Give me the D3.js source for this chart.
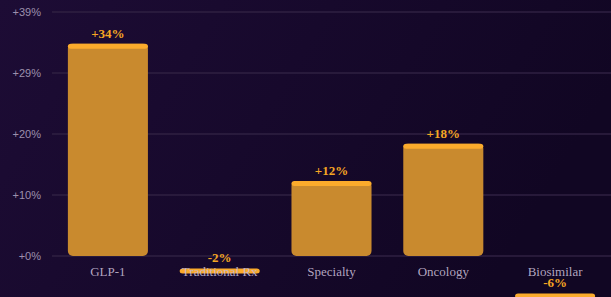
<!DOCTYPE html>
<html>
<head>
<meta charset="utf-8">
<script src="https://cdn.jsdelivr.net/npm/d3@7"></script>
<style>
  html, body { margin: 0; padding: 0; }
  body { width: 611px; height: 297px; overflow: hidden; }
</style>
</head>
<body>
<svg width="611" height="297"></svg>
<script>
// growth by segment, year over year
var categories = ["GLP-1", "Traditional Rx", "Specialty", "Oncology", "Biosimilar"];
var growth = [34, -2, 12, 18, -6];

var svg = d3.select("svg"),
    width = +svg.attr("width"),
    height = +svg.attr("height");

var margin = {top: 12, right: 0, bottom: 41, left: 52};

// background
var defs = svg.append("defs");
var bg = defs.append("linearGradient")
    .attr("id", "bg")
    .attr("x1", "0").attr("y1", "0")
    .attr("x2", "1").attr("y2", "0.3");
bg.append("stop").attr("offset", "0%").attr("stop-color", "#1d0c35");
bg.append("stop").attr("offset", "100%").attr("stop-color", "#110623");

svg.append("rect")
    .attr("width", width)
    .attr("height", height)
    .attr("fill", "url(#bg)");

var data = categories.map(function(c, i) { return {key: c, value: growth[i]}; });

var ymax = d3.max(growth) * 1.15;

var x = d3.scaleBand()
    .domain(categories)
    .range([margin.left, width - margin.right])
    .paddingInner(0.284)
    .paddingOuter(0.142);

var y = d3.scaleLinear()
    .domain([0, ymax])
    .range([height - margin.bottom, margin.top]);

var ticks = d3.range(5).map(function(i) { return ymax * i / 4; });
var fmt = function(v) { return "+" + Math.round(v) + "%"; };

// gridlines
svg.append("g")
  .selectAll("line")
  .data(ticks)
  .enter().append("line")
    .attr("x1", margin.left)
    .attr("x2", width)
    .attr("y1", function(d) { return y(d); })
    .attr("y2", function(d) { return y(d); })
    .attr("stroke", "#2f2042")
    .attr("stroke-width", 1.5);

// tick labels
svg.append("g")
  .selectAll("text")
  .data(ticks)
  .enter().append("text")
    .attr("x", margin.left - 11)
    .attr("y", function(d) { return y(d); })
    .attr("dy", "0.35em")
    .attr("text-anchor", "end")
    .attr("font-family", "'Liberation Sans', sans-serif")
    .attr("font-size", "11px")
    .attr("fill", "#9d90ad")
    .text(fmt);

var bars = svg.append("g")
  .selectAll("g")
  .data(data)
  .enter().append("g");

// body (only drawn for positive values)
bars.filter(function(d) { return d.value > 0; })
  .append("rect")
    .attr("x", function(d) { return x(d.key); })
    .attr("y", function(d) { return y(d.value); })
    .attr("width", x.bandwidth())
    .attr("height", function(d) { return y(0) - y(d.value); })
    .attr("rx", 5)
    .attr("fill", "#c98a2e");

// top cap
bars.append("rect")
    .attr("x", function(d) { return x(d.key); })
    .attr("y", function(d) { return y(d.value); })
    .attr("width", x.bandwidth())
    .attr("height", 5)
    .attr("rx", 3)
    .attr("fill", "#fbab2c");

// category labels
bars.append("text")
    .attr("x", function(d) { return x(d.key) + x.bandwidth() / 2; })
    .attr("y", y(0) + 20)
    .attr("text-anchor", "middle")
    .attr("font-family", "'Liberation Serif', serif")
    .attr("font-size", "13px")
    .attr("fill", "#c4b9d2")
    .attr("fill-opacity", 0.9)
    .text(function(d) { return d.key; });

// value labels
bars.append("text")
    .attr("x", function(d) { return x(d.key) + x.bandwidth() / 2; })
    .attr("y", function(d) { return y(d.value) - 6; })
    .attr("text-anchor", "middle")
    .attr("font-family", "'Liberation Serif', serif")
    .attr("font-weight", "bold")
    .attr("font-size", "13px")
    .attr("fill", "#f5a623")
    .text(function(d) { return (d.value > 0 ? "+" : "") + d.value + "%"; });
</script>
</body>
</html>
